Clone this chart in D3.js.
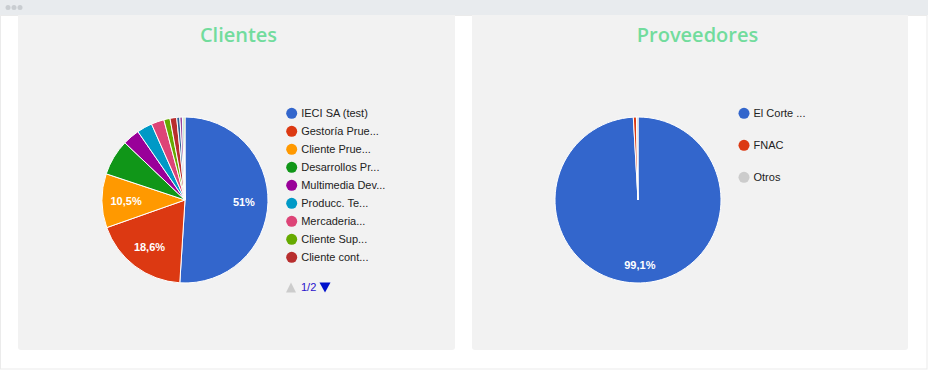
<!DOCTYPE html>
<html><head><meta charset="utf-8">
<script src="https://cdn.jsdelivr.net/npm/d3@7"></script>
<style>
html,body{margin:0;padding:0;background:#fff;}
svg{display:block;}
</style></head>
<body>
<svg id="c" width="928" height="370"></svg>
<script>
// Data
const clientesNames = ["IECI SA (test)","Gestoría Prue...","Cliente Prue...","Desarrollos Pr...","Multimedia Dev...","Producc. Te...","Mercaderia...","Cliente Sup...","Cliente cont...","p10","p11","p12","p13"];
const clientesValues = [51.0, 18.6, 10.5, 7.0, 3.3, 3.0, 2.5, 1.2, 1.3, 0.6, 0.5, 0.3, 0.2];
const proveedoresNames = ["El Corte ...","FNAC","Otros"];
const proveedoresValues = [99.1, 0.6, 0.3];
const palette = ["#3366cc","#dc3912","#ff9900","#109618","#990099","#0099c6","#dd4477","#66aa00","#b82e2e","#316395","#994499","#22aa99","#aaaa11"];
const provColors = ["#3366cc","#dc3912","#cccccc"];
const titles = ["Clientes","Proveedores"];
const legendPage = "1/2";

const svg = d3.select("#c");
// top bar
svg.append("rect").attr("x",0).attr("y",0).attr("width",928).attr("height",15).attr("fill","#e8ebee");
[8,14,20].forEach(x=>svg.append("circle").attr("cx",x).attr("cy",7.5).attr("r",2.5).attr("fill","#c9cdd1"));
// outer border
svg.append("rect").attr("x",0.5).attr("y",15.5).attr("width",926.5).attr("height",353.5).attr("fill","none").attr("stroke","#ebebeb");
// panels
const panels = [{x:18,w:437,tx:238.5},{x:472,w:436,tx:697.5}];
panels.forEach((p,i)=>{
  svg.append("rect").attr("x",p.x).attr("y",15).attr("width",p.w).attr("height",335).attr("rx",3).attr("fill","#f2f2f2");
  svg.append("rect").attr("x",p.x).attr("y",15).attr("width",p.w).attr("height",5).attr("fill","#f2f2f2");
  svg.append("text").attr("x",p.tx).attr("y",41.5).attr("text-anchor","middle")
    .attr("font-family","'Open Sans', sans-serif").attr("font-size",20).attr("font-weight",600).attr("fill","#72dc9d").text(titles[i]);
});

function fmt(v){
  const s = d3.format(".1f")(v).replace(/\.0$/,"").replace(".",",");
  return s+"%";
}

function drawPie(cx, cy, r, values, colors, labelMin){
  const g = svg.append("g").attr("transform",`translate(${cx},${cy})`);
  const total = d3.sum(values);
  const arcs = d3.pie().sort(null).value(d=>d)(values);
  const arc = d3.arc().innerRadius(0).outerRadius(r);
  g.selectAll("path").data(arcs).join("path").attr("d",arc)
    .attr("fill",(d,i)=>colors[i]).attr("stroke","#fff").attr("stroke-width",1);
  arcs.forEach(d=>{
    const frac = d.value/total;
    if(frac < labelMin) return;
    const a = (d.startAngle+d.endAngle)/2;
    const lr = frac > 0.9 ? r*0.78 : r*0.71;
    g.append("text").attr("x",lr*Math.sin(a)).attr("y",-lr*Math.cos(a)).attr("dy","0.36em")
      .attr("text-anchor","middle").attr("font-family","Arial, 'Liberation Sans', sans-serif")
      .attr("font-size",11).attr("font-weight","bold").attr("fill","#fff").text(fmt(d.value));
  });
}
drawPie(185,200,83,clientesValues,palette,0.1);
drawPie(638,200,83,proveedoresValues,provColors,0.1);

function legend(x, y0, step, names, colors){
  names.forEach((n,i)=>{
    const y = y0+i*step;
    svg.append("circle").attr("cx",x).attr("cy",y).attr("r",5.5).attr("fill",colors[i]);
    svg.append("text").attr("x",x+9.5).attr("y",y).attr("dy","0.35em")
      .attr("font-family","Arial, 'Liberation Sans', sans-serif").attr("font-size",11).attr("fill","#222").text(n);
  });
}
legend(291.7,113.3,18,clientesNames.slice(0,9),palette);
legend(744,113.3,32,proveedoresNames,provColors);
// pagination
const py = 287.5;
svg.append("path").attr("d",`M${286},${py+5} L${296},${py+5} L${291},${py-5} Z`).attr("fill","#cccccc");
svg.append("text").attr("x",301).attr("y",py).attr("dy","0.35em").attr("font-family","Arial, 'Liberation Sans', sans-serif")
  .attr("font-size",11).attr("fill","#2a11cc").text(legendPage);
svg.append("path").attr("d",`M${319.5},${py-5} L${330.5},${py-5} L${325},${py+5} Z`).attr("fill","#0011cc");
</script>
</body></html>
